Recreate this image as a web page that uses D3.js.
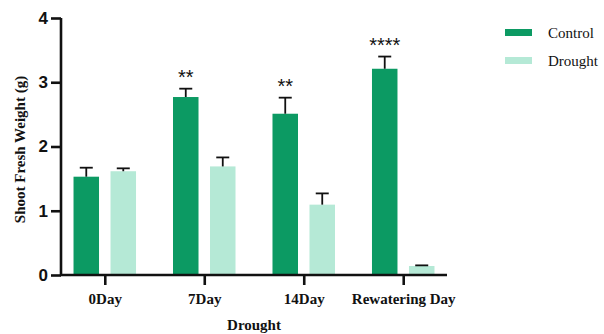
<!DOCTYPE html>
<html>
<head>
<meta charset="utf-8">
<script src="https://cdn.jsdelivr.net/npm/d3@7"></script>
<style>
  html, body { margin: 0; padding: 0; background: #fff; }
  svg { display: block; }
</style>
</head>
<body>
<svg id="chart" width="604" height="334"></svg>
<script>
// Shoot fresh weight, mean and SD per sampling day
const categories = ["0Day", "7Day", "14Day", "Rewatering Day"];
const seriesNames = ["Control", "Drought"];
const controlMean = [1.53, 2.77, 2.51, 3.21];
const controlErr  = [0.14, 0.13, 0.25, 0.19];
const droughtMean = [1.615, 1.69, 1.095, 0.14];
const droughtErr  = [0.045, 0.14, 0.175, 0.01];
const significance = ["", "**", "**", "****"];
const yTicks = [0, 1, 2, 3, 4];
const colors = ["#0c9a63", "#b5e9d6"];

const svg = d3.select("#chart");
const x0 = 61, x1 = 447, yBase = 275, yTop = 18;

const x = d3.scalePoint().domain(categories).range([x0, x1]).padding(0.44);
const y = d3.scaleLinear().domain([0, 4]).range([yBase, yTop]);
const sub = d3.scaleOrdinal().domain(seriesNames).range([-18.5, 18.5]);
const barW = 25.5;

const rows = [];
categories.forEach((c, i) => {
  rows.push({ cat: c, s: "Control", v: controlMean[i], e: controlErr[i], color: colors[0] });
  rows.push({ cat: c, s: "Drought", v: droughtMean[i], e: droughtErr[i], color: colors[1] });
});

// bars
svg.append("g").selectAll("rect").data(rows).join("rect")
  .attr("x", d => x(d.cat) + sub(d.s) - barW / 2)
  .attr("y", d => y(d.v))
  .attr("width", barW)
  .attr("height", d => y(0) - y(d.v))
  .attr("fill", d => d.color);

// error bars (upper half only)
const eb = svg.append("g").attr("stroke", "#111").attr("stroke-width", 1.8);
rows.forEach(d => {
  const cx = x(d.cat) + sub(d.s);
  eb.append("line").attr("x1", cx).attr("x2", cx).attr("y1", y(d.v)).attr("y2", y(d.v + d.e));
  eb.append("line").attr("x1", cx - 6.5).attr("x2", cx + 6.5).attr("y1", y(d.v + d.e)).attr("y2", y(d.v + d.e));
});

// significance marks above control bars
svg.append("g").selectAll("text").data(categories).join("text")
  .attr("x", c => x(c) + sub("Control"))
  .attr("y", (c, i) => y(controlMean[i] + controlErr[i]) - 5)
  .attr("text-anchor", "middle")
  .attr("font-family", "Liberation Sans, Arial, sans-serif")
  .attr("font-size", 20)
  .attr("fill", "#111")
  .text((c, i) => significance[i]);

// y axis
const yAxis = svg.append("g").attr("transform", `translate(${x0},0)`)
  .call(d3.axisLeft(y).tickValues(yTicks).tickFormat(d3.format("d")).tickSize(10).tickPadding(3));
yAxis.select(".domain").attr("stroke", "#111").attr("stroke-width", 2.6).attr("d", `M0,${yBase}V${yTop}`);
yAxis.selectAll(".tick line").attr("stroke", "#111").attr("stroke-width", 2.6);
yAxis.selectAll(".tick text")
  .attr("font-family", "Liberation Sans, Arial, sans-serif")
  .attr("font-weight", "bold").attr("font-size", 17).attr("fill", "#111");

// x axis
const xAxis = svg.append("g").attr("transform", `translate(0,${yBase})`)
  .call(d3.axisBottom(x).tickSize(10).tickPadding(8));
xAxis.select(".domain").attr("stroke", "#111").attr("stroke-width", 2.6).attr("d", `M${x0 - 1},0H${x1}`);
xAxis.selectAll(".tick line").attr("stroke", "#111").attr("stroke-width", 2.6);
xAxis.selectAll(".tick text")
  .attr("font-family", "Liberation Serif, Times New Roman, serif")
  .attr("font-weight", "bold").attr("font-size", 15).attr("fill", "#111");

// axis titles
svg.append("text")
  .attr("transform", `translate(25,${(yBase + yTop) / 2 + 3}) rotate(-90)`)
  .attr("text-anchor", "middle")
  .attr("font-family", "Liberation Serif, Times New Roman, serif")
  .attr("font-weight", "bold").attr("font-size", 15).attr("fill", "#111")
  .text("Shoot Fresh Weight (g)");

svg.append("text")
  .attr("x", (x0 + x1) / 2).attr("y", 330)
  .attr("text-anchor", "middle")
  .attr("font-family", "Liberation Serif, Times New Roman, serif")
  .attr("font-weight", "bold").attr("font-size", 15).attr("fill", "#111")
  .text("Drought");

// legend
const legend = svg.append("g").attr("transform", "translate(505,29)");
seriesNames.forEach((s, i) => {
  const g = legend.append("g").attr("transform", `translate(0,${i * 28})`);
  g.append("rect").attr("width", 27).attr("height", 7).attr("fill", colors[i]);
  g.append("text").attr("x", 43).attr("y", 8.5)
    .attr("font-family", "Liberation Serif, Times New Roman, serif")
    .attr("font-size", 15).attr("fill", "#111")
    .text(s);
});
</script>
</body>
</html>
